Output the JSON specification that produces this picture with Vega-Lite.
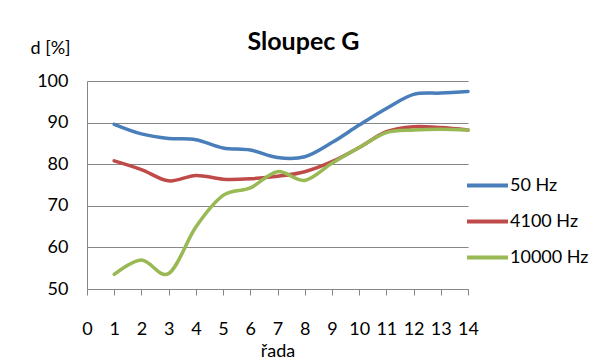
{
  "$schema": "https://vega.github.io/schema/vega-lite/v6.json",
  "width": 381,
  "height": 208,
  "autosize": {"type": "none"},
  "padding": {"left": 87, "top": 81, "right": 125, "bottom": 70},
  "background": "white",
  "title": {
    "text": "Sloupec G",
    "font": "Lato",
    "fontSize": 25,
    "fontWeight": "bold",
    "color": "#000000",
    "anchor": "middle",
    "frame": "group",
    "dx": 26,
    "baseline": "alphabetic",
    "offset": -36
  },
  "data": {
    "values": [
      {"rada": 1, "f": "50 Hz", "d": 89.6},
      {"rada": 2, "f": "50 Hz", "d": 87.3},
      {"rada": 3, "f": "50 Hz", "d": 86.2},
      {"rada": 4, "f": "50 Hz", "d": 85.9},
      {"rada": 5, "f": "50 Hz", "d": 83.9},
      {"rada": 6, "f": "50 Hz", "d": 83.4},
      {"rada": 7, "f": "50 Hz", "d": 81.6},
      {"rada": 8, "f": "50 Hz", "d": 81.8},
      {"rada": 9, "f": "50 Hz", "d": 85.2},
      {"rada": 10, "f": "50 Hz", "d": 89.4},
      {"rada": 11, "f": "50 Hz", "d": 93.4},
      {"rada": 12, "f": "50 Hz", "d": 96.8},
      {"rada": 13, "f": "50 Hz", "d": 97.1},
      {"rada": 14, "f": "50 Hz", "d": 97.5},
      {"rada": 1, "f": "4100 Hz", "d": 80.8},
      {"rada": 2, "f": "4100 Hz", "d": 78.7},
      {"rada": 3, "f": "4100 Hz", "d": 76.0},
      {"rada": 4, "f": "4100 Hz", "d": 77.3},
      {"rada": 5, "f": "4100 Hz", "d": 76.4},
      {"rada": 6, "f": "4100 Hz", "d": 76.5},
      {"rada": 7, "f": "4100 Hz", "d": 77.1},
      {"rada": 8, "f": "4100 Hz", "d": 78.2},
      {"rada": 9, "f": "4100 Hz", "d": 80.6},
      {"rada": 10, "f": "4100 Hz", "d": 84.0},
      {"rada": 11, "f": "4100 Hz", "d": 87.8},
      {"rada": 12, "f": "4100 Hz", "d": 89.0},
      {"rada": 13, "f": "4100 Hz", "d": 88.8},
      {"rada": 14, "f": "4100 Hz", "d": 88.2},
      {"rada": 1, "f": "10000 Hz", "d": 53.5},
      {"rada": 2, "f": "10000 Hz", "d": 57.0},
      {"rada": 3, "f": "10000 Hz", "d": 53.7},
      {"rada": 4, "f": "10000 Hz", "d": 64.9},
      {"rada": 5, "f": "10000 Hz", "d": 72.5},
      {"rada": 6, "f": "10000 Hz", "d": 74.3},
      {"rada": 7, "f": "10000 Hz", "d": 78.2},
      {"rada": 8, "f": "10000 Hz", "d": 76.1},
      {"rada": 9, "f": "10000 Hz", "d": 80.2},
      {"rada": 10, "f": "10000 Hz", "d": 84.0},
      {"rada": 11, "f": "10000 Hz", "d": 87.6},
      {"rada": 12, "f": "10000 Hz", "d": 88.2},
      {"rada": 13, "f": "10000 Hz", "d": 88.4},
      {"rada": 14, "f": "10000 Hz", "d": 88.2}
    ]
  },
  "mark": {"type": "line", "interpolate": "cardinal", "strokeWidth": 3.5, "strokeCap": "round"},
  "encoding": {
    "x": {
      "field": "rada",
      "type": "quantitative",
      "scale": {"domain": [0, 14], "nice": false, "zero": false},
      "axis": {
        "title": "řada",
        "values": [0, 1, 2, 3, 4, 5, 6, 7, 8, 9, 10, 11, 12, 13, 14],
        "grid": false,
        "tickSize": 6,
        "tickColor": "#868686",
        "domainColor": "#868686",
        "labelBaseline": "alphabetic",
        "labelPadding": 39,
        "labelFont": "Lato",
        "labelFontSize": 18,
        "labelColor": "#000000",
        "labelFlush": false,
        "labelOverlap": false,
        "titleFont": "Lato",
        "titleFontSize": 18,
        "titleFontWeight": "normal",
        "titleColor": "#000000",
        "titleBaseline": "alphabetic",
        "titleY": 67
      }
    },
    "y": {
      "field": "d",
      "type": "quantitative",
      "scale": {"domain": [50, 100], "nice": false, "zero": false},
      "axis": {
        "title": "d [%]",
        "values": [50, 60, 70, 80, 90, 100],
        "grid": true,
        "gridColor": "#868686",
        "ticks": false,
        "tickSize": 0,
        "domainColor": "#868686",
        "labelPadding": 19,
        "labelFont": "Lato",
        "labelFontSize": 18,
        "labelColor": "#000000",
        "labelFlush": false,
        "titleAngle": 0,
        "titleAlign": "left",
        "titleBaseline": "middle",
        "titleX": -57,
        "titleY": -33,
        "titleFont": "Lato",
        "titleFontSize": 18,
        "titleFontWeight": "normal",
        "titleColor": "#000000"
      }
    },
    "color": {
      "field": "f",
      "type": "nominal",
      "sort": ["50 Hz", "4100 Hz", "10000 Hz"],
      "scale": {"domain": ["50 Hz", "4100 Hz", "10000 Hz"], "range": ["#4A7EBB", "#BE4B48", "#98B954"]},
      "legend": {
        "title": null,
        "orient": "none",
        "legendX": 378,
        "legendY": 82,
        "symbolType": "stroke",
        "symbolSize": 1681,
        "symbolStrokeWidth": 4,
        "labelFont": "Lato",
        "labelFontSize": 18,
        "labelColor": "#000000",
        "labelOffset": 0,
        "rowPadding": 4
      }
    }
  },
  "config": {"view": {"stroke": null}, "font": "Lato"}
}
